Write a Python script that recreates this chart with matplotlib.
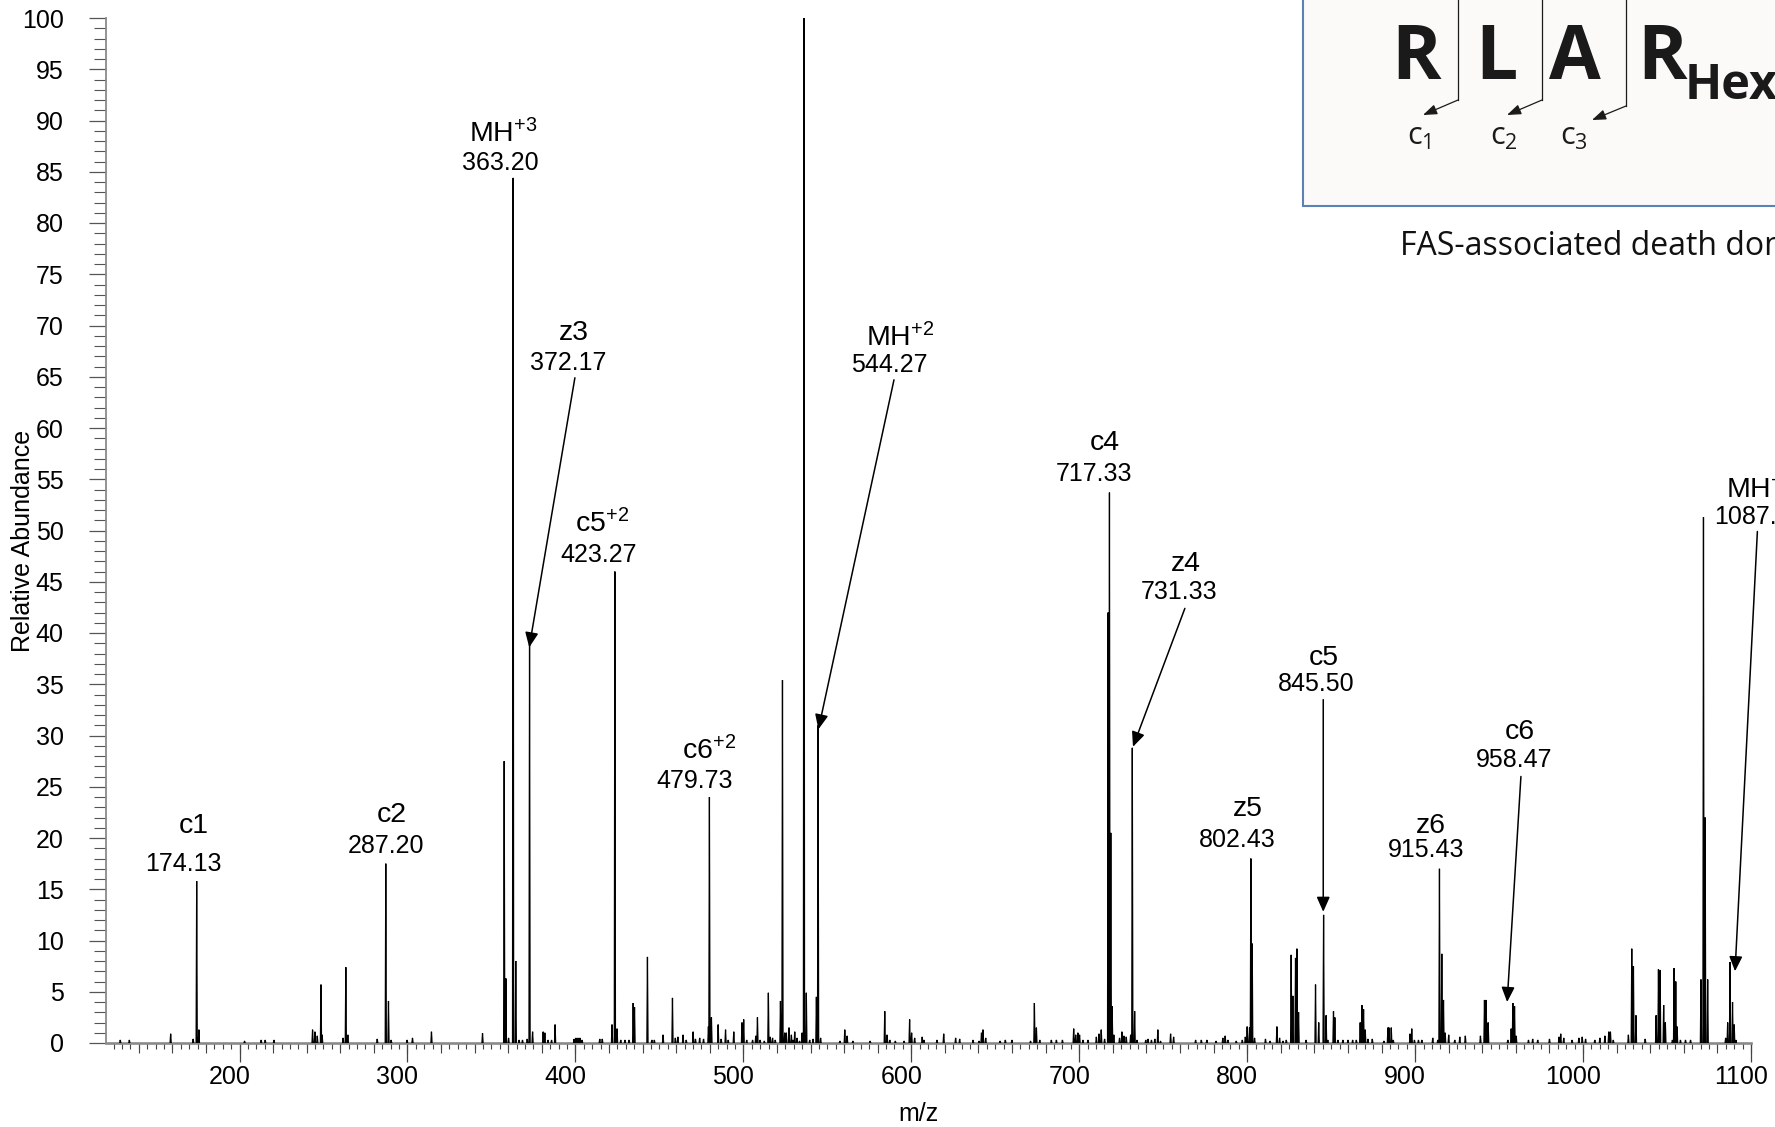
import matplotlib
matplotlib.use('Agg')
import matplotlib.pyplot as plt
import numpy as np
from matplotlib.ticker import MultipleLocator
from matplotlib.transforms import ScaledTranslation
from matplotlib.patches import Rectangle, FancyArrowPatch
from matplotlib.lines import Line2D

plt.rcParams['font.family'] = ['Liberation Sans', 'DejaVu Sans']
plt.rcParams['mathtext.default'] = 'regular'

# peaks (m/z, relative abundance)
mz = [
    129.0, 134.4, 159.0, 172.4, 174.5, 175.8, 203.0, 212.9, 215.3, 220.5,
    243.5, 244.9, 246.3, 248.5, 249.2, 261.7, 263.3, 264.5, 282.0, 287.1,
    288.7, 290.3, 299.8, 303.0, 314.3, 344.7, 357.6, 358.6, 360.2, 362.9,
    364.5, 366.5, 368.5, 371.3, 372.7, 374.5, 380.8, 381.8, 383.7, 385.8,
    387.9, 399.2, 400.3, 401.5, 402.7, 404.0, 414.5, 416.0, 421.8, 423.5,
    424.8, 427.0, 429.5, 432.0, 434.4, 435.2, 442.9, 445.5, 447.0, 452.2,
    457.8, 459.5, 461.0, 464.1, 466.0, 470.1, 471.5, 474.0, 476.3, 479.2,
    479.8, 481.0, 485.0, 486.8, 489.4, 491.0, 494.3, 499.2, 500.2, 502.0,
    505.5, 507.4, 508.4, 510.0, 512.5, 514.9, 516.0, 517.4, 519.0, 522.1,
    523.3, 524.6, 525.6, 527.2, 528.6, 529.6, 530.6, 532.0, 533.5, 535.0,
    536.1, 537.5, 539.5, 541.5, 543.5, 544.5, 546.0, 557.5, 560.4, 561.8,
    565.2, 575.5, 584.2, 585.6, 587.2, 590.5, 595.7, 599.0, 600.2, 602.0,
    606.5, 607.5, 615.3, 619.3, 626.4, 628.8, 636.8, 640.4, 641.8, 642.7,
    644.3, 652.9, 656.0, 659.9, 671.0, 673.3, 674.5, 676.5, 683.4, 686.4,
    690.0, 696.7, 697.9, 699.2, 700.2, 702.2, 705.2, 710.2, 711.8, 713.1,
    715.1, 717.2, 718.0, 718.8, 719.6, 720.6, 724.0, 725.4, 726.6, 728.0,
    730.6, 731.6, 733.0, 734.4, 739.6, 741.0, 743.0, 745.0, 746.8, 748.4,
    754.4, 756.2, 769.3, 772.7, 776.0, 781.5, 785.5, 786.9, 788.5, 793.5,
    797.1, 798.9, 800.0, 801.4, 802.2, 803.0, 804.4, 810.9, 813.6, 817.7,
    819.3, 821.3, 823.3, 826.2, 827.2, 828.8, 829.6, 830.6, 835.1, 840.7,
    842.6, 845.5, 847.0, 848.0, 851.4, 852.2, 854.0, 857.0, 860.0, 862.8,
    865.0, 867.3, 868.3, 869.3, 870.3, 871.9, 874.5, 881.4, 883.8, 884.4,
    885.8, 887.0, 897.0, 898.0, 899.6, 902.0, 904.0, 910.5, 913.5, 914.5,
    915.9, 916.9, 917.9, 920.0, 923.6, 926.6, 929.9, 938.9, 941.3, 942.3,
    943.5, 955.2, 957.2, 958.2, 959.2, 960.2, 967.5, 970.0, 973.0, 980.0,
    985.7, 986.7, 988.5, 993.5, 997.5, 999.5, 1001.5, 1007.0, 1010.0, 1013.0,
    1015.3, 1016.3, 1018.0, 1027.0, 1029.0, 1030.0, 1031.5, 1037.0, 1043.5, 1044.9,
    1045.9, 1048.0, 1049.0, 1053.2, 1054.2, 1055.2, 1056.0, 1058.0, 1061.0, 1064.0,
    1070.2, 1071.7, 1072.7, 1074.2, 1084.9, 1086.1, 1087.5, 1089.0, 1090.0, 1091.0,
]
abundance = [
    0.3, 0.3, 0.9, 0.4, 15.8, 1.3, 0.2, 0.3, 0.3, 0.3,
    1.3, 1.1, 0.7, 5.7, 0.8, 0.5, 7.4, 0.8, 0.4, 17.5,
    4.1, 0.3, 0.3, 0.5, 1.1, 0.95, 27.5, 6.3, 0.5, 84.4,
    8.0, 0.3, 0.3, 0.4, 39.0, 1.1, 1.1, 1.0, 0.3, 0.3,
    1.8, 0.4, 0.5, 0.5, 0.5, 0.3, 0.4, 0.4, 1.8, 46.0,
    1.4, 0.3, 0.3, 0.3, 3.9, 3.5, 8.4, 0.3, 0.3, 0.8,
    4.4, 0.5, 0.6, 0.8, 0.3, 1.1, 0.4, 0.5, 0.4, 1.6,
    24.0, 2.5, 1.8, 0.4, 1.3, 0.3, 1.1, 2.0, 2.3, 0.3,
    0.3, 0.7, 2.5, 0.3, 0.2, 4.9, 0.6, 0.5, 0.3, 4.1,
    35.4, 1.0, 1.0, 1.5, 0.8, 0.3, 1.1, 0.5, 0.2, 1.0,
    100.0, 4.9, 0.3, 0.4, 4.5, 31.0, 0.5, 0.2, 1.3, 0.7,
    0.2, 0.2, 3.1, 0.8, 0.3, 0.2, 0.2, 2.3, 1.0, 0.5,
    0.6, 0.3, 0.3, 0.9, 0.5, 0.4, 0.3, 0.2, 1.0, 1.3,
    0.5, 0.2, 0.3, 0.3, 0.2, 3.9, 1.5, 0.3, 0.3, 0.3,
    0.3, 1.4, 0.8, 1.0, 0.8, 0.3, 0.3, 0.6, 0.9, 1.3,
    0.4, 42.0, 53.7, 20.5, 3.6, 0.8, 0.5, 1.1, 0.7, 0.6,
    0.8, 28.8, 3.1, 0.3, 0.3, 0.4, 0.3, 0.4, 1.3, 0.2,
    0.9, 0.6, 0.3, 0.3, 0.3, 0.2, 0.5, 0.7, 0.3, 0.2,
    0.3, 0.6, 1.6, 1.5, 18.0, 9.7, 0.5, 0.4, 0.2, 1.6,
    0.5, 0.2, 0.3, 8.6, 4.6, 8.3, 9.2, 3.0, 0.3, 5.7,
    2.0, 12.5, 2.7, 0.3, 3.1, 2.5, 0.3, 0.3, 0.3, 0.3,
    0.3, 2.0, 3.7, 3.3, 1.3, 0.4, 0.4, 0.2, 1.5, 1.5,
    1.5, 0.3, 0.9, 1.4, 0.3, 0.3, 0.3, 0.5, 0.3, 17.0,
    8.7, 4.2, 1.0, 0.8, 0.3, 0.6, 0.7, 0.7, 4.2, 4.2,
    2.0, 0.3, 1.4, 3.9, 3.6, 0.7, 0.3, 0.4, 0.3, 0.4,
    0.6, 0.9, 0.5, 0.3, 0.5, 0.6, 0.4, 0.3, 0.5, 0.7,
    1.1, 1.1, 0.3, 0.8, 9.2, 7.5, 2.7, 0.4, 2.7, 7.2,
    7.1, 3.7, 2.0, 0.3, 7.3, 6.0, 1.6, 0.3, 0.3, 0.3,
    6.2, 51.3, 22.0, 6.2, 0.5, 2.0, 7.9, 4.0, 1.8, 0.3,
]

# annotated fragment ions
ion_names = ['c1', 'c2', 'MH+3', 'z3', 'c5+2', 'c6+2', 'MH+2',
             'c4', 'z4', 'z5', 'c5', 'z6', 'c6', 'MH+']
ion_mz = ['174.13', '287.20', '363.20', '372.17', '423.27', '479.73', '544.27',
          '717.33', '731.33', '802.43', '845.50', '915.43', '958.47', '1087.55']

# label layout (data coords)
name_pos = [(172.6, 21.2), (290.5, 22.2), (357.2, 88.7), (399.0, 69.3), (415.8, 50.7),
            (479.8, 28.5), (593.6, 68.8), (715.0, 58.5), (763.5, 46.7), (800.7, 22.8),
            (845.7, 37.6), (909.2, 21.2), (962.4, 30.3), (1085.2, 53.9)]
num_pos = [(166.5, 17.5), (287.1, 19.2), (355.2, 85.9), (395.6, 66.3), (413.8, 47.6),
           (471.1, 25.6), (587.0, 66.1), (709.0, 55.5), (759.5, 44.0), (794.0, 19.8),
           (840.9, 35.0), (906.4, 18.8), (959.0, 27.6), (1077.8, 51.3)]
arrows = [((399.7, 64.9), (372.5, 38.6)), ((589.7, 64.7), (544.7, 30.6)),
          ((762.9, 42.4), (732.0, 28.9)), ((845.3, 33.5), (845.3, 12.8)),
          ((963.0, 26.0), (954.8, 4.0)), ((1103.8, 49.9), (1090.5, 7.0))]

W, H = 1775, 1127
fig = plt.figure(figsize=(W / 100, H / 100), dpi=100)
ax = fig.add_axes([106 / W, 84 / H, (1751 - 106) / W, (1043 - 18) / H])

# spectrum as narrow profile spikes
hw = 0.35
xs, ys = [], []
for m, a in sorted(zip(mz, abundance)):
    xs += [m - hw, m, m + hw, np.nan]
    ys += [0, a, 0, np.nan]
ax.plot(xs, ys, color='black', lw=0.9, solid_joinstyle='miter', zorder=3)

ax.set_xlim(120.5, 1100)
ax.set_ylim(0, 100)
for s in ['top', 'right']:
    ax.spines[s].set_visible(False)
ax.spines['bottom'].set_color('#8a8a8a')
ax.spines['bottom'].set_linewidth(1.9)
ax.spines['left'].set_color('#8a8a8a')
ax.spines['left'].set_linewidth(1.3)

ax.xaxis.set_major_locator(MultipleLocator(100))
ax.xaxis.set_minor_locator(MultipleLocator(5))
ax.yaxis.set_major_locator(MultipleLocator(5))
ax.yaxis.set_minor_locator(MultipleLocator(1))
ax.tick_params(axis='x', which='major', length=14, width=0.9, color='#444444',
               labelsize=18, pad=2)
ax.tick_params(axis='x', which='minor', length=4, width=0.8, color='#444444')
ax.tick_params(axis='y', which='major', length=12.5, width=0.9, color='#555555',
               labelsize=18, pad=18)
ax.tick_params(axis='y', which='minor', length=8.5, width=0.8, color='#555555')

# intermediate ticks every 20
sec = ax.secondary_xaxis('bottom')
sec.set_xticks(np.arange(140, 1101, 20))
sec.tick_params(length=7, width=0.8, color='#444444', labelbottom=False)
sec.spines['bottom'].set_visible(False)

fig.canvas.draw()
shift = ScaledTranslation(-0.10, 0, fig.dpi_scale_trans)
for t in ax.xaxis.get_major_ticks():
    t.label1.set_transform(t.label1.get_transform() + shift)

ax.set_ylabel('Relative Abundance', fontsize=18, va='center')
ax.yaxis.set_label_coords(-0.0505, 0.49)
ax.set_xlabel('m/z', fontsize=18, va='center')
ax.xaxis.set_label_coords(0.4936, -0.069)


def fmt(name):
    if '+' in name:
        base, chg = name.split('+')
        return r'$\mathregular{%s^{+%s}}$' % (base, chg)
    return name


for i, (name, val) in enumerate(zip(ion_names, ion_mz)):
    ha = 'left' if name == 'MH+' else 'center'
    ax.text(*name_pos[i], fmt(name), fontsize=20.5, ha=ha, va='center', clip_on=False)
    ax.text(*num_pos[i], val, fontsize=18, ha=ha, va='center', clip_on=False)

for (x0, y0), (x1, y1) in arrows:
    ax.annotate('', xy=(x1, y1), xytext=(x0, y0), annotation_clip=False,
                arrowprops=dict(arrowstyle='-|>,head_length=0.45,head_width=0.2',
                                mutation_scale=20, lw=1.1, color='black',
                                shrinkA=0, shrinkB=0))


# sequence inset (figure pixel layout)
def px(x, y):
    return (x / W, 1 - y / H)


fig.patches.append(Rectangle(px(1303, 206), 0.4, 0.3, transform=fig.transFigure,
                             facecolor='#fbfaf8', edgecolor='#5b82b5', lw=1.5, zorder=5))
residues = ['R', 'L', 'A', 'R']
res_x = [1416, 1496, 1575, 1662]
for r, x in zip(residues, res_x):
    fig.text(*px(x, 79), r, fontsize=54, fontweight='bold', family='Open Sans',
             ha='center', va='baseline', color='#1a1a1a', zorder=6)
fig.text(*px(1685, 99), 'Hex', fontsize=35, fontweight='bold', family='Open Sans',
         ha='left', va='baseline', color='#1a1a1a', zorder=6)

cuts = [(1458, 100, 1423, 115), (1542, 100, 1507, 115), (1626, 106, 1592, 120)]
for cx, cy, tx, ty in cuts:
    fig.lines.append(Line2D([cx / W, cx / W], [1 + 0.01, 1 - cy / H],
                            transform=fig.transFigure, color='#1a1a1a', lw=0.9, zorder=6))
    fig.patches.append(FancyArrowPatch(px(cx, cy), px(tx, ty), transform=fig.transFigure,
                                       arrowstyle='-|>,head_length=0.6,head_width=0.22',
                                       mutation_scale=14, lw=0.9, color='#1a1a1a',
                                       shrinkA=0, shrinkB=0, zorder=6))

c_labels = [r'$\mathregular{c_1}$', r'$\mathregular{c_2}$', r'$\mathregular{c_3}$']
c_x = [1407, 1490, 1560]
for lab, x in zip(c_labels, c_x):
    fig.text(*px(x, 145), lab, fontsize=22, family='Open Sans', ha='left',
             va='baseline', color='#1a1a1a', zorder=6)

fig.text(*px(1400, 255), 'FAS-associated death domain protein', fontsize=23,
         family='Open Sans', ha='left', va='baseline', color='#111111', zorder=6)

fig.savefig('out.png', dpi=100)
